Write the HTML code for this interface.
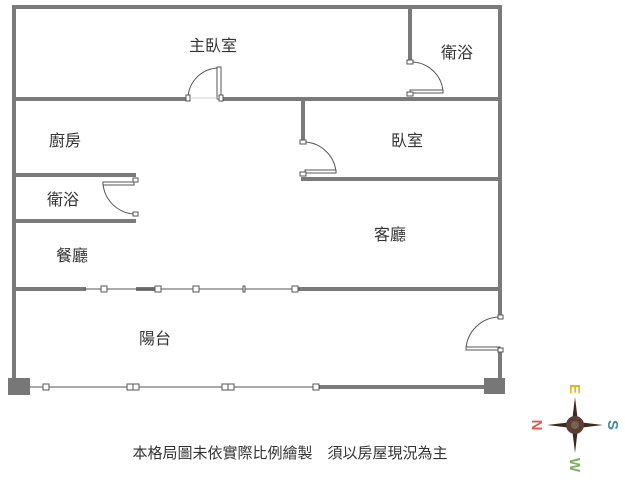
<!DOCTYPE html>
<html><head><meta charset="utf-8"><style>
body{margin:0;background:#fff;width:625px;height:480px;overflow:hidden}
</style></head><body>
<svg width="625" height="480" xmlns="http://www.w3.org/2000/svg" style="font-family:'Liberation Sans','Noto Sans CJK TC',sans-serif">
<g stroke="#7a7a7a" stroke-width="4" fill="none" stroke-linecap="square">
<path d="M14 7H500V317M500 350V387"/>
<path d="M14 7V387"/>
<path d="M14 99H188M222 99H500"/>
<path d="M410 7V62"/>
<path d="M303 99V142M303 179H500"/>
<path d="M14 175H134M14 221H134"/>
<path d="M14 289H84M138 289H155M300 289H500"/>
<path d="M320 387H484"/>
</g>
<g stroke="#555" stroke-width="1" fill="#fff">
<path d="M188 99A31 31 0 0 1 219 68" fill="none"/>
<rect x="217" y="67" width="4" height="32"/>
<rect x="186" y="95" width="4" height="6"/><rect x="219" y="95" width="4" height="6"/>
<line x1="190" y1="98" x2="219" y2="98" stroke="#ccc"/>
<path d="M410 62A32 32 0 0 1 443 92" fill="none"/>
<rect x="410" y="90" width="33" height="3"/>
<rect x="407" y="60" width="6" height="4"/><rect x="407" y="92" width="6" height="4"/>
<path d="M303 142A33 33 0 0 1 336 172" fill="none"/>
<rect x="305" y="170" width="31" height="3"/>
<rect x="300" y="140" width="6" height="4"/><rect x="300" y="172" width="6" height="4"/>
<path d="M103 183A33 33 0 0 0 136 214" fill="none"/>
<rect x="103" y="182" width="31" height="3"/>
<rect x="133" y="178" width="5" height="4"/><rect x="133" y="212" width="5" height="4"/>
<path d="M500 317A34 34 0 0 0 466 349" fill="none"/>
<rect x="466" y="347" width="34" height="3"/>
<rect x="498" y="315" width="5" height="4"/><rect x="498" y="348" width="5" height="4"/>
<line x1="84" y1="289" x2="300" y2="289"/>
<rect x="101" y="286" width="6" height="6"/><rect x="155" y="286" width="6" height="6"/><rect x="193" y="286" width="6" height="6"/><rect x="243" y="286" width="2" height="6"/><rect x="292" y="286" width="6" height="6"/>
<line x1="30" y1="387" x2="320" y2="387"/>
<rect x="43" y="384" width="6" height="6"/><rect x="127" y="384" width="6" height="6"/><rect x="133" y="384" width="6" height="6"/><rect x="222" y="384" width="6" height="6"/><rect x="228" y="384" width="6" height="6"/><rect x="313" y="384" width="6" height="6"/>
</g>
<rect x="8" y="378" width="22" height="17" fill="#777"/>
<rect x="484" y="378" width="21" height="16" fill="#777"/>
<g fill="#333" font-size="16" text-anchor="middle">
<text x="213" y="51">主臥室</text>
<text x="457" y="58">衛浴</text>
<text x="65" y="146">廚房</text>
<text x="407" y="146">臥室</text>
<text x="63" y="205">衛浴</text>
<text x="390" y="240">客廳</text>
<text x="72" y="261">餐廳</text>
<text x="155" y="344">陽台</text>
<text x="290" y="458" font-size="15">本格局圖未依實際比例繪製　須以房屋現況為主</text>
</g>
<g transform="translate(575,425)">
<path d="M0-28L3-3 28 0 3 3 0 28-3 3-28 0-3-3Z" fill="#3a2a22"/>
<circle r="9" fill="#5a4034"/><circle r="4" fill="#7a6050"/>
<text x="0" y="-31" font-size="15" font-weight="bold" fill="#e0b820" text-anchor="middle" transform="rotate(90 0 -36)">E</text>
<text x="-38" y="5" font-size="15" font-weight="bold" fill="#e05a5a" text-anchor="middle" transform="rotate(90 -38 0)">N</text>
<text x="38" y="5" font-size="15" font-weight="bold" fill="#3a8aa8" text-anchor="middle" transform="rotate(90 38 0)">S</text>
<text x="0" y="45" font-size="15" font-weight="bold" fill="#7ab060" text-anchor="middle" transform="rotate(90 0 40)">W</text>
</g>
</svg>
</body></html>
